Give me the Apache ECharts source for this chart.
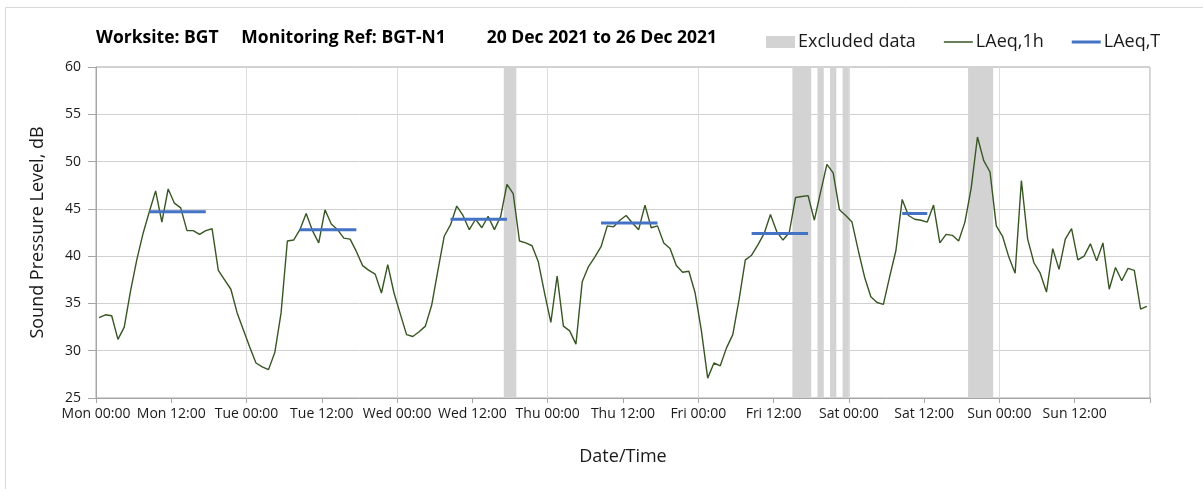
<!DOCTYPE html>
<html>
<head>
    <meta charset="utf-8">
    <style>
        body{
            margin:0;
            padding:0;
            background:#fff;
        }
        #chart{
            width:1203px;
            height:489px;
        }
    </style>
</head>
<body>
    <div id="chart"></div>
    <script src="https://cdn.jsdelivr.net/npm/echarts@6/dist/echarts.min.js"></script>
    <script>
        // tick labels every 12 hours, Mon 00:00 .. Sun 12:00
        var tickLabels = ["Mon 00:00","Mon 12:00","Tue 00:00","Tue 12:00","Wed 00:00","Wed 12:00",
            "Thu 00:00","Thu 12:00","Fri 00:00","Fri 12:00","Sat 00:00","Sat 12:00","Sun 00:00","Sun 12:00"];

        // hourly LAeq,1h values, one per hour from Mon 00:00
        var monValues = [33.5,33.8,33.7,31.2,32.5,36.3,39.6,42.4,44.7,46.9,43.6,47.1,45.6,45.1,42.7,42.7,42.3,42.7,42.9,38.5,37.5,36.5,34.0,32.2];
        var tueValues = [30.4,28.7,28.3,28.0,29.8,34.0,41.6,41.7,42.8,44.5,42.7,41.4,44.9,43.4,42.8,41.9,41.8,40.5,39.0,38.5,38.1,36.1,39.1,36.1];
        var wedValues = [33.9,31.7,31.5,32.0,32.6,34.8,38.5,42.1,43.3,45.3,44.3,42.8,43.9,43.0,44.2,42.8,44.2,47.6,46.6,41.6,41.4,41.1,39.4,36.1];
        var thuValues = [33.0,37.9,32.6,32.1,30.7,37.3,38.9,39.9,41.0,43.2,43.1,43.8,44.3,43.5,42.8,45.4,43.0,43.2,41.4,40.8,39.0,38.3,38.4,36.1];
        var friValues = [32.1,27.1,28.7,28.4,30.3,31.7,35.4,39.6,40.1,41.2,42.4,44.4,42.6,41.7,42.5,46.2,46.3,46.4,43.8,46.8,49.7,48.8,44.9,44.3];
        var satValues = [43.6,40.6,37.8,35.7,35.1,34.9,37.8,40.6,46.0,44.3,43.9,43.8,43.6,45.4,41.4,42.3,42.2,41.6,43.6,47.2,52.6,50.1,48.9,43.2];
        var sunValues = [42.1,39.9,38.2,48.0,41.8,39.3,38.2,36.2,40.8,38.6,41.8,42.9,39.6,40.0,41.3,39.5,41.4,36.5,38.8,37.4,38.7,38.5,34.4,34.7];

        // LAeq,T periods (start hour, end hour from Mon 00:00) and levels
        var laeqTPeriods = [[8,18],[32,42],[56,66],[80,90],[104,114],[128,133]];
        var laeqTValues = [44.7,42.8,43.9,43.5,42.4,44.5];

        // excluded data periods (start hour, end hour)
        var excludedPeriods = [[65,67],[111,114],[115,116],[117,118],[119,120],[139,143]];

        var yMin = 25, yMax = 60;
    </script>
    <script>
        var font = "Open Sans";
        var textColor = "#1a1a1a";
        var chart = echarts.init(document.getElementById("chart"));

        var hourly = [].concat(monValues, tueValues, wedValues, thuValues, friValues, satValues, sunValues);
        var hourlyData = hourly.map(function(v, i){ return [i + 0.5, v]; });

        var laeqTData = [];
        laeqTPeriods.forEach(function(p, i){
            laeqTData.push([p[0] + 0.5, laeqTValues[i]]);
            laeqTData.push([p[1] - 0.5, laeqTValues[i]]);
            laeqTData.push([p[1], "-"]);
        });

        // legend icons: plain line, tiny corner marks keep the 29x12 box
        function lineIcon(w){
            var a = 6 - w / 2, b = 6 + w / 2;
            return "path://M0,0L0.01,0L0,0.01Z M0," + a + "L29," + a + "L29," + b + "L0," + b + "Z M29,12L28.99,12L29,11.99Z";
        }

        var option = {
            animation: false,
            backgroundColor: "#fff",
            textStyle: { fontFamily: font },
            graphic: [{
                type: "rect",
                silent: true,
                shape: { x: 5.5, y: 7.5, width: 1300, height: 600 },
                style: { fill: "none", stroke: "#d9d9d9", lineWidth: 1 }
            }],
            title: {
                text: "Worksite: BGT     Monitoring Ref: BGT-N1         20 Dec 2021 to 26 Dec 2021",
                left: 96,
                top: 29,
                padding: 0,
                textStyle: { fontFamily: font, fontSize: 17.5, fontWeight: "bold", color: "#000" }
            },
            legend: {
                left: 766,
                top: 33,
                padding: 0,
                itemWidth: 29,
                itemHeight: 12,
                itemGap: 28,
                textStyle: { fontFamily: font, fontSize: 18, color: textColor, padding: [0, 0, 0, -2] },
                data: [
                    { name: "Excluded data", icon: "rect" },
                    { name: "LAeq,1h", icon: lineIcon(1.5) },
                    { name: "LAeq,T", icon: lineIcon(3) }
                ]
            },
            grid: {
                left: 96,
                right: 53,
                top: 67,
                bottom: 91,
                show: true,
                borderColor: "#a6a6a6",
                borderWidth: 1
            },
            xAxis: [{
                type: "value",
                min: 0,
                max: 168,
                interval: 12,
                name: "Date/Time",
                nameLocation: "middle",
                nameGap: 50,
                nameTextStyle: { fontFamily: font, fontSize: 18, color: textColor },
                axisLine: { show: true, lineStyle: { color: "#a6a6a6", width: 1 } },
                axisTick: { show: true, length: 5, lineStyle: { color: "#a6a6a6" } },
                axisLabel: {
                    margin: 9,
                    fontFamily: font,
                    fontSize: 14,
                    color: textColor,
                    formatter: function(v){ return tickLabels[v / 12] || ""; }
                },
                splitLine: { show: false }
            }, {
                type: "value",
                min: 0,
                max: 168,
                interval: 24,
                position: "bottom",
                axisLine: { show: false },
                axisTick: { show: false },
                axisLabel: { show: false },
                splitLine: { show: true, lineStyle: { color: "#dcdcdc", width: 1 } }
            }],
            yAxis: {
                type: "value",
                min: yMin,
                max: yMax,
                interval: 5,
                name: "Sound Pressure Level, dB",
                nameLocation: "middle",
                nameGap: 49,
                nameTextStyle: { fontFamily: font, fontSize: 18, color: textColor },
                axisLine: { show: true, lineStyle: { color: "#a6a6a6", width: 1 } },
                axisTick: { show: true, length: 8, lineStyle: { color: "#a6a6a6" } },
                axisLabel: { margin: 15, fontFamily: font, fontSize: 14, color: textColor },
                splitLine: { show: true, lineStyle: { color: "#d0d0d0", width: 1 } }
            },
            series: [{
                name: "Excluded data",
                type: "custom",
                z: 1,
                xAxisIndex: 0,
                itemStyle: { color: "#d3d3d3" },
                encode: { x: [0, 1] },
                data: excludedPeriods,
                renderItem: function(params, api){
                    var p0 = api.coord([api.value(0), yMax]);
                    var p1 = api.coord([api.value(1), yMin]);
                    return {
                        type: "rect",
                        shape: { x: p0[0], y: p0[1], width: p1[0] - p0[0], height: p1[1] - p0[1] },
                        style: api.style()
                    };
                }
            }, {
                name: "LAeq,1h",
                type: "line",
                z: 3,
                xAxisIndex: 0,
                symbol: "none",
                showSymbol: false,
                color: "#375623",
                lineStyle: { color: "#375623", width: 1.4 },
                data: hourlyData
            }, {
                name: "LAeq,T",
                type: "line",
                z: 4,
                xAxisIndex: 0,
                symbol: "none",
                showSymbol: false,
                connectNulls: false,
                color: "#4472c4",
                lineStyle: { color: "#4472c4", width: 3, cap: "butt" },
                data: laeqTData
            }]
        };

        chart.setOption(option);
    </script>
</body>
</html>
